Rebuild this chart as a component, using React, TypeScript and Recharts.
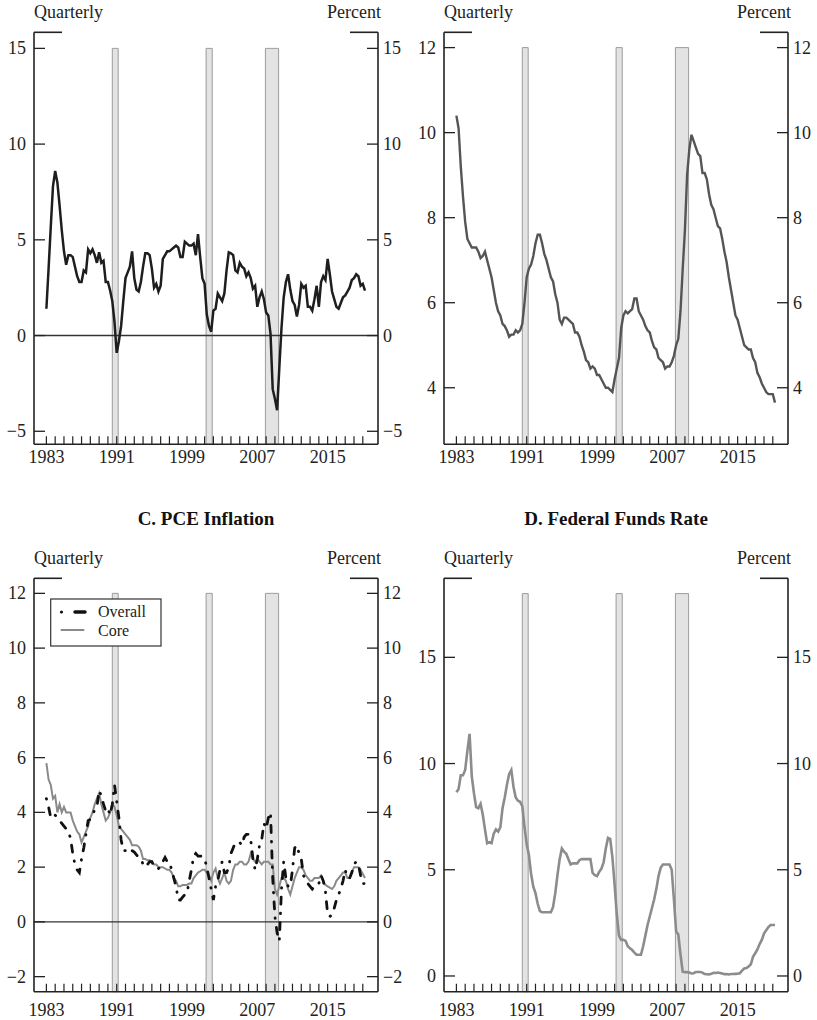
import React from "react";
import { LineChart, Line, XAxis, YAxis, ReferenceArea, ReferenceLine } from "recharts";

const FONT = '"Liberation Serif", "Times New Roman", serif';
const INK = "#222";

// quarterly observations, 1983:Q1 - 2019:Q2
const firstYear = 1983;
const yearTicks = Array.from({ length: 37 }, (_, i) => 1983 + i);
const labelYears = [1983, 1991, 1999, 2007, 2015];
const recessions: [number, number][] = [
  [1990.5, 1991.17],
  [2001.17, 2001.87],
  [2007.92, 2009.42],
];

const gdpGrowth = [
  1.4, 3.5, 5.7, 7.8, 8.6, 8.0, 6.8, 5.5, 4.4, 3.7, 4.2, 4.2, 4.1, 3.6, 3.1, 2.8,
  2.8, 3.4, 3.3, 4.5, 4.3, 4.5, 4.2, 3.8, 4.35, 3.8, 3.9, 2.8, 2.8, 2.35, 1.8, 0.7,
  -0.9, -0.3, 0.5, 1.8, 3.0, 3.3, 3.6, 4.4, 3.0, 2.4, 2.3, 2.8, 3.6, 4.3, 4.3, 4.2,
  3.5, 2.5, 2.7, 2.3, 2.6, 4.0, 4.2, 4.4, 4.4, 4.5, 4.6, 4.7, 4.6, 4.1, 4.1, 4.9,
  4.8, 4.7, 4.7, 4.8, 4.2, 5.3, 4.1, 3.0, 2.7, 1.1, 0.5, 0.2, 1.3, 1.4, 2.2, 2.0,
  1.8, 2.2, 3.4, 4.35, 4.3, 4.2, 3.4, 3.3, 3.8, 3.6, 3.5, 3.1, 3.3, 3.0, 2.45, 2.6,
  1.5, 2.0, 2.3, 1.9, 1.2, 1.05, 0.1, -2.8, -3.3, -3.9, -1.7, 0.4, 2.0, 2.8, 3.2, 2.4,
  1.8, 1.6, 1.0, 1.6, 2.7, 2.5, 2.6, 1.5, 1.5, 1.3, 1.9, 2.6, 1.5, 2.8, 3.1, 2.9,
  4.0, 3.2, 2.3, 1.9, 1.5, 1.4, 1.7, 2.0, 2.1, 2.3, 2.5, 2.9, 3.0, 3.2, 3.1, 2.6,
  2.7, 2.35,
];

const unemployment = [
  10.4, 10.1, 9.2, 8.5, 7.9, 7.5, 7.4, 7.3, 7.3, 7.3, 7.2, 7.05, 7.1, 7.2, 7.0, 6.8,
  6.6, 6.3, 6.0, 5.8, 5.7, 5.5, 5.45, 5.35, 5.2, 5.25, 5.25, 5.35, 5.3, 5.35, 5.5, 6.0,
  6.6, 6.8, 6.9, 7.1, 7.4, 7.6, 7.6, 7.4, 7.15, 7.0, 6.8, 6.6, 6.5, 6.2, 6.0, 5.6,
  5.5, 5.65, 5.65, 5.6, 5.55, 5.5, 5.3, 5.3, 5.2, 5.0, 4.85, 4.65, 4.6, 4.45, 4.5, 4.45,
  4.3, 4.3, 4.2, 4.1, 4.0, 4.0, 3.95, 3.9, 4.2, 4.45, 4.7, 5.4, 5.7, 5.8, 5.75, 5.8,
  5.85, 6.1, 6.1, 5.8, 5.7, 5.6, 5.45, 5.35, 5.3, 5.1, 4.95, 4.9, 4.7, 4.65, 4.6, 4.45,
  4.5, 4.5, 4.6, 4.75, 5.0, 5.15, 5.8, 6.8, 7.7, 9.0, 9.6, 9.95, 9.8, 9.65, 9.5, 9.45,
  9.05, 9.05, 8.9, 8.55, 8.3, 8.2, 8.0, 7.8, 7.75, 7.5, 7.2, 6.95, 6.6, 6.3, 6.0, 5.7,
  5.6, 5.4, 5.2, 5.0, 4.95, 4.9, 4.9, 4.7, 4.6, 4.35, 4.25, 4.1, 4.0, 3.9, 3.85, 3.85,
  3.85, 3.65,
];

const pceOverall = [
  4.5, 4.2, 3.8, 3.9, 3.9, 3.8, 3.7, 3.6, 3.5, 3.4, 3.3, 3.05, 2.5, 2.1, 1.9, 1.8,
  2.3, 2.7, 3.2, 3.7, 3.75, 3.9, 4.1, 4.2, 4.8, 4.6, 4.3, 4.05, 4.15, 3.9, 4.3, 5.0,
  4.4, 3.8, 3.0, 2.6, 2.6, 2.7, 2.65, 2.6, 2.55, 2.45, 2.35, 2.3, 2.1, 2.0, 2.1, 2.2,
  2.2, 2.0, 2.0, 1.95, 2.0, 2.2, 2.35, 2.2, 2.2, 1.9, 1.6, 1.3, 0.8, 0.8, 0.9, 1.0,
  1.05, 1.5, 1.9, 2.4, 2.5, 2.4, 2.4, 2.4, 2.3, 2.0, 1.6, 1.2, 0.8, 1.3, 1.5, 1.9,
  2.2, 1.8, 1.8, 2.0, 2.5, 2.7, 2.9, 2.9, 2.9, 2.8, 3.1, 3.2, 3.2, 3.0, 2.3, 1.9,
  2.3, 2.8, 3.0, 3.6, 3.4, 3.8, 4.0, 1.6, 0.2, -0.4, -0.7, 1.2, 2.2, 1.6, 1.3, 1.3,
  1.9, 2.7, 2.8, 2.5, 2.3, 1.7, 1.5, 1.4, 1.3, 1.2, 1.3, 1.3, 1.4, 1.7, 1.5, 1.1,
  0.3, 0.2, 0.25, 0.5, 0.8, 1.0, 1.2, 1.5, 1.9, 1.6, 1.6, 1.8, 2.1, 2.2, 2.1, 1.7,
  1.4, 1.4,
];

const pceCore = [
  5.8, 5.2, 5.0, 4.5, 4.6, 4.0, 4.3, 4.0, 4.2, 4.0, 4.0, 4.0, 3.7, 3.5, 3.3, 3.2,
  2.9, 3.1, 3.3, 3.5, 3.8, 4.0, 4.3, 4.5, 4.7, 4.3, 4.0, 3.7, 3.8, 4.0, 4.3, 4.2,
  3.9, 3.5, 3.4, 3.3, 3.2, 3.1, 3.0, 2.8, 2.8, 2.8, 2.75, 2.6, 2.3, 2.3, 2.25, 2.25,
  2.2, 2.1, 2.1, 2.0, 2.0, 2.0, 1.95, 1.9, 1.9, 1.8, 1.6, 1.5, 1.3, 1.3, 1.35, 1.35,
  1.35, 1.4, 1.4, 1.6, 1.7, 1.8, 1.85, 1.9, 1.9, 1.8, 1.7, 1.5, 1.8, 1.95, 1.6, 1.4,
  1.6, 1.8, 1.5, 1.4, 1.5, 1.9, 2.1, 2.1, 2.2, 2.2, 2.1, 2.1, 2.2, 2.5, 2.3, 2.2,
  2.3, 2.2, 2.1, 2.2, 2.2, 2.2, 2.1, 2.1, 1.2, 1.0, 1.3, 1.6, 1.6, 1.5, 1.2, 1.0,
  1.3, 1.6, 1.8, 2.0, 2.0, 1.9, 1.7, 1.6, 1.5, 1.5, 1.6, 1.6, 1.6, 1.7, 1.5, 1.35,
  1.3, 1.25, 1.2, 1.3, 1.5, 1.6, 1.7, 1.8, 1.8, 1.6, 1.6, 1.8, 2.0, 2.0, 2.0, 1.9,
  1.75, 1.6,
];

const fedFunds = [
  8.65, 8.8, 9.45, 9.45, 9.7, 10.6, 11.4, 9.4, 8.6, 7.95, 7.9, 8.1, 7.6, 6.9, 6.25, 6.3,
  6.25, 6.7, 6.9, 6.8, 7.0, 7.9, 8.4, 9.0, 9.5, 9.7, 8.9, 8.4, 8.25, 8.2, 8.0, 7.0,
  6.2, 5.7, 4.8, 4.2, 3.9, 3.4, 3.05, 3.0, 3.0, 3.0, 3.0, 3.0, 3.25, 3.9, 4.75, 5.5,
  6.0, 5.85, 5.75, 5.5, 5.25, 5.3, 5.3, 5.3, 5.45, 5.5, 5.5, 5.5, 5.5, 5.5, 4.85, 4.75,
  4.7, 4.9, 5.05, 5.35, 6.0, 6.5, 6.45, 5.6, 4.3, 2.9, 1.9, 1.7, 1.7, 1.65, 1.4, 1.3,
  1.22, 1.1, 1.0, 1.0, 1.0, 1.4, 1.9, 2.4, 2.8, 3.2, 3.6, 4.1, 4.7, 5.1, 5.25, 5.25,
  5.25, 5.25, 5.0, 3.6, 2.1, 1.95, 1.0, 0.2, 0.18, 0.18, 0.16, 0.12, 0.13, 0.19, 0.19, 0.19,
  0.16, 0.09, 0.08, 0.07, 0.1, 0.15, 0.14, 0.16, 0.14, 0.12, 0.08, 0.09, 0.07, 0.09, 0.09, 0.1,
  0.11, 0.13, 0.25, 0.35, 0.37, 0.45, 0.55, 0.9, 1.07, 1.25, 1.5, 1.7, 2.0, 2.15, 2.3, 2.4,
  2.4, 2.4,
];

function buildRows(series: Record<string, number[]>) {
  const n = Math.max(...Object.values(series).map((s) => s.length));
  return Array.from({ length: n }, (_, i) => {
    const row: Record<string, number> = { t: firstYear + i / 4 };
    for (const [k, s] of Object.entries(series)) row[k] = s[i];
    return row;
  });
}

const gdpRows = buildRows({ gdp: gdpGrowth });
const unempRows = buildRows({ unemp: unemployment });
const pceRows = buildRows({ overall: pceOverall, core: pceCore });
const ffRows = buildRows({ ff: fedFunds });

const CHART_W = 407;
const PLOT_L = 34;
const PLOT_R = 378;
const X_DOMAIN: [number, number] = [1981.59, 2020.73];

const fmt = (v: number) => (v < 0 ? `\u2212${Math.abs(v)}` : `${v}`);

type PanelProps = {
  left: number;
  top: number;
  height: number;
  plotTop: number;
  plotBottom: number;
  yDomain: [number, number];
  yTicks: number[];
  shadeTop: number;
  zeroLine?: boolean;
  labelDy: number;
  data: Record<string, number>[];
  children: React.ReactNode;
};

function Panel(p: PanelProps) {
  const xTick = ({ x, payload }: any) => (
    <g>
      <line x1={x} x2={x} y1={p.plotBottom} y2={p.plotBottom - 8} stroke={INK} strokeWidth={1.2} />
      {labelYears.includes(payload.value) && (
        <text x={x} y={p.plotBottom + p.labelDy} textAnchor="middle" fontFamily={FONT} fontSize={18} fill={INK}>
          {payload.value}
        </text>
      )}
    </g>
  );
  const leftTick = ({ y, payload }: any) => (
    <g>
      <line x1={PLOT_L} x2={PLOT_L + 11} y1={y} y2={y} stroke={INK} strokeWidth={1.3} />
      <text x={PLOT_L - 8} y={y + 6} textAnchor="end" fontFamily={FONT} fontSize={18} fill={INK}>
        {fmt(payload.value)}
      </text>
    </g>
  );
  const rightTick = ({ y, payload }: any) => (
    <g>
      <line x1={PLOT_R - 11} x2={PLOT_R} y1={y} y2={y} stroke={INK} strokeWidth={1.3} />
      <text x={PLOT_R + 5} y={y + 6} textAnchor="start" fontFamily={FONT} fontSize={18} fill={INK}>
        {fmt(payload.value)}
      </text>
    </g>
  );
  const axisLine = { stroke: INK, strokeWidth: 1.6 };

  return (
    <div style={{ position: "absolute", left: p.left, top: p.top }}>
      <LineChart
        width={CHART_W}
        height={p.height}
        data={p.data}
        margin={{ top: p.plotTop, right: 0, bottom: 0, left: 0 }}
      >
        <XAxis
          dataKey="t"
          type="number"
          domain={X_DOMAIN}
          ticks={yearTicks}
          interval={0}
          tick={xTick}
          tickLine={false}
          axisLine={axisLine}
          height={p.height - p.plotBottom}
          allowDataOverflow
        />
        <YAxis
          yAxisId="l"
          orientation="left"
          width={PLOT_L}
          domain={p.yDomain}
          ticks={p.yTicks}
          interval={0}
          tick={leftTick}
          tickLine={false}
          axisLine={axisLine}
          allowDataOverflow
        />
        <YAxis
          yAxisId="r"
          orientation="right"
          width={CHART_W - PLOT_R}
          domain={p.yDomain}
          ticks={p.yTicks}
          interval={0}
          tick={rightTick}
          tickLine={false}
          axisLine={axisLine}
          allowDataOverflow
        />
        {recessions.map(([a, b]) => (
          <ReferenceArea
            key={a}
            yAxisId="l"
            x1={a}
            x2={b}
            y1={p.yDomain[0]}
            y2={p.shadeTop}
            fill="#e3e3e3"
            fillOpacity={1}
            stroke="#9c9c9c"
            strokeWidth={1}
          />
        ))}
        {p.zeroLine && <ReferenceLine yAxisId="l" y={0} stroke="#333" strokeWidth={1.4} />}
        {p.children}
      </LineChart>
    </div>
  );
}

const headers = [
  { x: 0, y: 17.5 },
  { x: 410, y: 17.5 },
  { x: 0, y: 563.5 },
  { x: 410, y: 563.5 },
];
const stubs = [
  { x: 0, y: 32.3 },
  { x: 410, y: 32.3 },
  { x: 0, y: 578.3 },
  { x: 410, y: 578.3 },
];

function Overlay() {
  const txt = { fontFamily: FONT, fontSize: 18, fill: INK };
  return (
    <svg width={817} height={1020} style={{ position: "absolute", left: 0, top: 0, pointerEvents: "none" }}>
      {headers.map((h, i) => (
        <g key={i}>
          <text x={h.x + 34} y={h.y} {...txt}>Quarterly</text>
          <text x={h.x + 381} y={h.y} textAnchor="end" {...txt}>Percent</text>
        </g>
      ))}
      {stubs.map((s, i) => (
        <g key={i} stroke={INK} strokeWidth={1.6}>
          <line x1={s.x + 34} x2={s.x + 62} y1={s.y} y2={s.y} />
          <line x1={s.x + 350} x2={s.x + 378} y1={s.y} y2={s.y} />
        </g>
      ))}
      <text x={206} y={525} textAnchor="middle" fontFamily={FONT} fontSize={19} fontWeight="bold" fill="#111">
        C. PCE Inflation
      </text>
      <text x={616} y={525} textAnchor="middle" fontFamily={FONT} fontSize={19} fontWeight="bold" fill="#111">
        D. Federal Funds Rate
      </text>
      <g>
        <rect x={50.7} y={599} width={110.3} height={47} fill="#fff" stroke="#333" strokeWidth={1.2} />
        <circle cx={61.5} cy={612} r={1.6} fill="#111" />
        <line x1={75} x2={85} y1={612} y2={612} stroke="#111" strokeWidth={3.5} strokeLinecap="round" />
        <text x={98} y={617} fontFamily={FONT} fontSize={16} fill={INK}>Overall</text>
        <line x1={60.7} x2={84.3} y1={630} y2={630} stroke="#8a8a8a" strokeWidth={2} />
        <text x={98} y={636} fontFamily={FONT} fontSize={16} fill={INK}>Core</text>
      </g>
    </svg>
  );
}

export default function App() {
  return (
    <div
      style={{
        position: "absolute",
        left: 0,
        top: 0,
        width: 817,
        height: 1020,
        background: "#fff",
        overflow: "hidden",
        fontFamily: FONT,
      }}
    >
      <Panel left={0} top={0} height={470} plotTop={32.3} plotBottom={444.3}
        yDomain={[-5.68, 15.84]} yTicks={[-5, 0, 5, 10, 15]} shadeTop={15} zeroLine labelDy={19} data={gdpRows}>
        <Line yAxisId="l" type="linear" dataKey="gdp" stroke="#1e1e1e" strokeWidth={2.5} dot={false} isAnimationActive={false} />
      </Panel>
      <Panel left={410} top={0} height={470} plotTop={32.3} plotBottom={444.3}
        yDomain={[2.67, 12.36]} yTicks={[4, 6, 8, 10, 12]} shadeTop={12} labelDy={19} data={unempRows}>
        <Line yAxisId="l" type="linear" dataKey="unemp" stroke="#555" strokeWidth={2.4} dot={false} isAnimationActive={false} />
      </Panel>
      <Panel left={0} top={540} height={480} plotTop={38.3} plotBottom={451.7}
        yDomain={[-2.55, 12.55]} yTicks={[-2, 0, 2, 4, 6, 8, 10, 12]} shadeTop={12} zeroLine labelDy={24} data={pceRows}>
        <Line yAxisId="l" type="linear" dataKey="core" stroke="#8a8a8a" strokeWidth={2} dot={false} isAnimationActive={false} />
        <Line yAxisId="l" type="linear" dataKey="overall" stroke="#111" strokeWidth={2.8} strokeDasharray="0.5 9 7 9"
          strokeLinecap="round" dot={false} isAnimationActive={false} />
      </Panel>
      <Panel left={410} top={540} height={480} plotTop={38.3} plotBottom={451.7}
        yDomain={[-0.74, 18.72]} yTicks={[0, 5, 10, 15]} shadeTop={18} labelDy={24} data={ffRows}>
        <Line yAxisId="l" type="linear" dataKey="ff" stroke="#8c8c8c" strokeWidth={2.6} dot={false} isAnimationActive={false} />
      </Panel>
      <Overlay />
    </div>
  );
}
